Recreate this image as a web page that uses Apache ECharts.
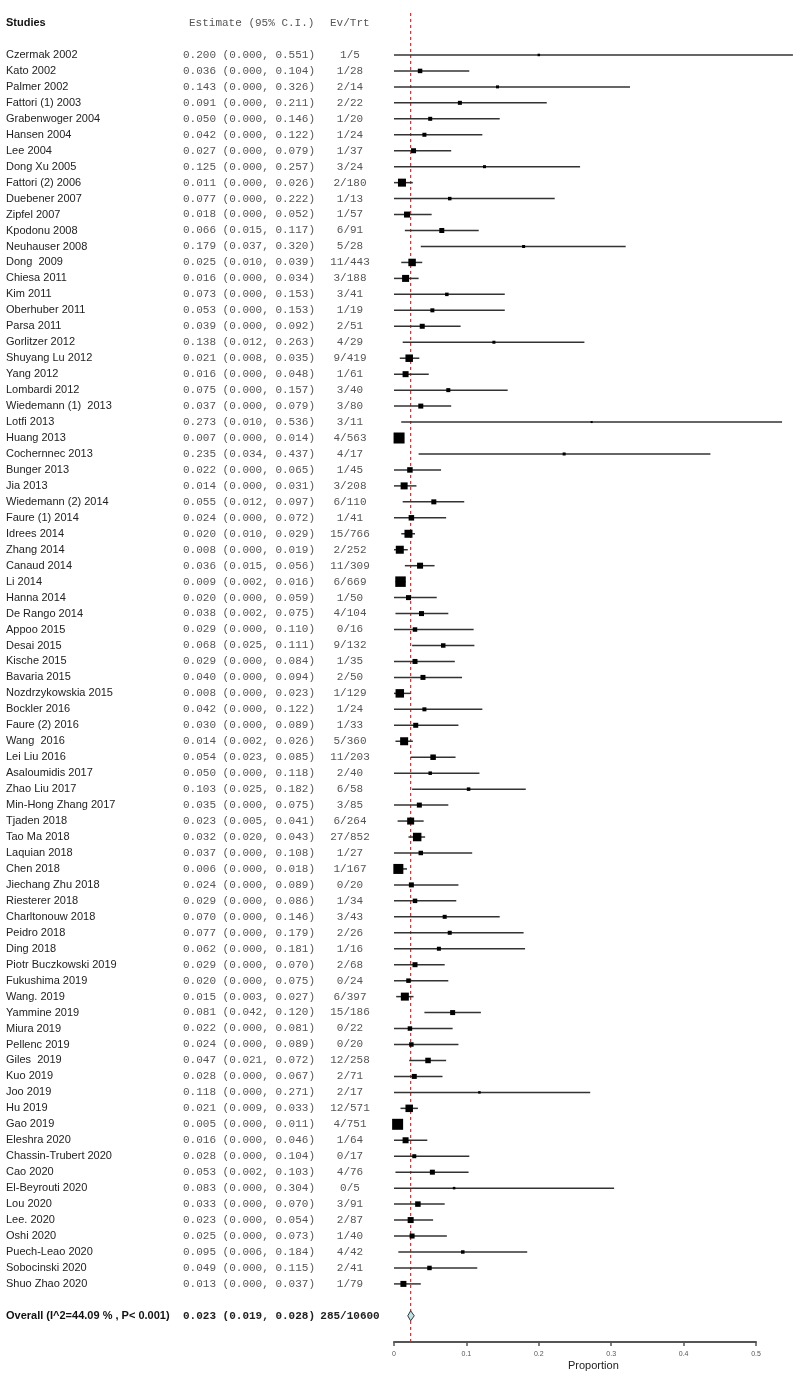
<!DOCTYPE html>
<html>
<head>
<meta charset="utf-8">
<script src="https://cdn.jsdelivr.net/npm/echarts@6/dist/echarts.min.js"></script>
<style>
html,body{margin:0;padding:0;background:#fff;}
#chart{width:800px;height:1380px;}
</style>
</head>
<body>
<div id="chart"></div>
<script>
const studies = ["Czermak 2002","Kato 2002","Palmer 2002","Fattori (1) 2003","Grabenwoger 2004","Hansen 2004","Lee 2004","Dong Xu 2005","Fattori (2) 2006","Duebener 2007",
"Zipfel 2007","Kpodonu 2008","Neuhauser 2008","Dong  2009","Chiesa 2011","Kim 2011","Oberhuber 2011","Parsa 2011","Gorlitzer 2012","Shuyang Lu 2012",
"Yang 2012","Lombardi 2012","Wiedemann (1)  2013","Lotfi 2013","Huang 2013","Cochernnec 2013","Bunger 2013","Jia 2013","Wiedemann (2) 2014","Faure (1) 2014",
"Idrees 2014","Zhang 2014","Canaud 2014","Li 2014","Hanna 2014","De Rango 2014","Appoo 2015","Desai 2015","Kische 2015","Bavaria 2015",
"Nozdrzykowskia 2015","Bockler 2016","Faure (2) 2016","Wang  2016","Lei Liu 2016","Asaloumidis 2017","Zhao Liu 2017","Min-Hong Zhang 2017","Tjaden 2018","Tao Ma 2018",
"Laquian 2018","Chen 2018","Jiechang Zhu 2018","Riesterer 2018","Charltonouw 2018","Peidro 2018","Ding 2018","Piotr Buczkowski 2019","Fukushima 2019","Wang. 2019",
"Yammine 2019","Miura 2019","Pellenc 2019","Giles  2019","Kuo 2019","Joo 2019","Hu 2019","Gao 2019","Eleshra 2020","Chassin-Trubert 2020",
"Cao 2020","El-Beyrouti 2020","Lou 2020","Lee. 2020","Oshi 2020","Puech-Leao 2020","Sobocinski 2020","Shuo Zhao 2020"];

const estimates = [0.200,0.036,0.143,0.091,0.050,0.042,0.027,0.125,0.011,0.077,
0.018,0.066,0.179,0.025,0.016,0.073,0.053,0.039,0.138,0.021,
0.016,0.075,0.037,0.273,0.007,0.235,0.022,0.014,0.055,0.024,
0.020,0.008,0.036,0.009,0.020,0.038,0.029,0.068,0.029,0.040,
0.008,0.042,0.030,0.014,0.054,0.050,0.103,0.035,0.023,0.032,
0.037,0.006,0.024,0.029,0.070,0.077,0.062,0.029,0.020,0.015,
0.081,0.022,0.024,0.047,0.028,0.118,0.021,0.005,0.016,0.028,
0.053,0.083,0.033,0.023,0.025,0.095,0.049,0.013];

const ciLower = [0,0,0,0,0,0,0,0,0,0,
0,0.015,0.037,0.010,0,0,0,0,0.012,0.008,
0,0,0,0.010,0,0.034,0,0,0.012,0,
0.010,0,0.015,0.002,0,0.002,0,0.025,0,0,
0,0,0,0.002,0.023,0,0.025,0,0.005,0.020,
0,0,0,0,0,0,0,0,0,0.003,
0.042,0,0,0.021,0,0,0.009,0,0,0,
0.002,0,0,0,0,0.006,0,0];

const ciUpper = [0.551,0.104,0.326,0.211,0.146,0.122,0.079,0.257,0.026,0.222,
0.052,0.117,0.320,0.039,0.034,0.153,0.153,0.092,0.263,0.035,
0.048,0.157,0.079,0.536,0.014,0.437,0.065,0.031,0.097,0.072,
0.029,0.019,0.056,0.016,0.059,0.075,0.110,0.111,0.084,0.094,
0.023,0.122,0.089,0.026,0.085,0.118,0.182,0.075,0.041,0.043,
0.108,0.018,0.089,0.086,0.146,0.179,0.181,0.070,0.075,0.027,
0.120,0.081,0.089,0.072,0.067,0.271,0.033,0.011,0.046,0.104,
0.103,0.304,0.070,0.054,0.073,0.184,0.115,0.037];

const events = [1,1,2,2,1,1,1,3,2,1,
1,6,5,11,3,3,1,2,4,9,
1,3,3,3,4,4,1,3,6,1,
15,2,11,6,1,4,0,9,1,2,
1,1,1,5,11,2,6,3,6,27,
1,1,0,1,3,2,1,2,0,6,
15,0,0,12,2,2,12,4,1,0,
4,0,3,2,1,4,2,1];

const totals = [5,28,14,22,20,24,37,24,180,13,
57,91,28,443,188,41,19,51,29,419,
61,40,80,11,563,17,45,208,110,41,
766,252,309,669,50,104,16,132,35,50,
129,24,33,360,203,40,58,85,264,852,
27,167,20,34,43,26,16,68,24,397,
186,22,20,258,71,17,571,751,64,17,
76,5,91,87,40,42,41,79];

const weights = [0.26,0.84,0.38,0.67,0.67,0.67,1.04,0.38,2.67,0.51,
1.5,1.04,0.38,2.34,2.04,0.51,0.67,1.04,0.38,2.34,
1.5,0.67,1.04,0.17,5.04,0.38,1.26,2.04,1.04,1.26,
2.67,2.67,1.5,4.59,1.04,1.04,0.84,0.84,1.04,1.04,
3.01,0.67,1.04,2.67,1.26,0.51,0.51,1.04,2.04,3.01,
0.84,4.17,1.04,0.84,0.67,0.67,0.67,1.04,0.84,2.67,
1.04,0.84,0.84,1.26,1.04,0.26,2.34,5.04,1.5,0.67,
1.04,0.26,1.26,1.5,1.04,0.51,0.84,1.5];

const overallLabel = "Overall (I^2=44.09 % , P< 0.001)";
const overallEst = 0.023, overallLo = 0.019, overallHi = 0.028;
const overallEvents = 285, overallTotal = 10600;
const xTicks = [0, 0.1, 0.2, 0.3, 0.4, 0.5];

const SANS = '"Liberation Sans", Arial, sans-serif';
const MONO = '"Liberation Mono", "Courier New", monospace';

const n = studies.length;
const overallRow = n + 1;
const forestData = studies.map((s, i) => [i, estimates[i], ciLower[i], ciUpper[i], weights[i]]);
const textData = studies.map((s, i) => [i, 0]);

const chart = echarts.init(document.getElementById('chart'), null, {renderer: 'canvas'});

const option = {
  animation: false,
  backgroundColor: '#fff',
  grid: {left: 394, right: 44, top: 39, bottom: 38},
  xAxis: {
    type: 'value', position: 'bottom', min: xTicks[0], max: xTicks[xTicks.length - 1], interval: 0.1,
    axisLine: {show: true, onZero: false, lineStyle: {color: '#555', width: 2}},
    axisTick: {show: true, length: 4, lineStyle: {color: '#555', width: 1.5}},
    axisLabel: {fontSize: 7, color: '#555', margin: 9, fontFamily: SANS,
      formatter: v => (v === 0 ? '0' : v.toFixed(1))},
    splitLine: {show: false}
  },
  yAxis: {type: 'value', inverse: true, min: -1, max: 80.64, show: false},
  graphic: [
    {type: 'text', left: 6, top: 17, style: {text: 'Studies', font: 'bold 11px ' + SANS, fill: '#111'}},
    {type: 'text', left: 189, top: 18, style: {text: 'Estimate (95% C.I.)', font: '11px ' + MONO, fill: '#555'}},
    {type: 'text', left: 330, top: 18, style: {text: 'Ev/Trt', font: '11px ' + MONO, fill: '#555'}},
    {type: 'text', left: 568, top: 1360, style: {text: 'Proportion', font: '11px ' + SANS, fill: '#222'}}
  ],
  series: [
    {
      type: 'custom', name: 'refline', clip: false, z: 1,
      data: [[overallEst, 0]],
      encode: {x: 0, y: 1},
      renderItem: (params, api) => {
        const v = api.value(0);
        const p1 = api.coord([v, -2.63]);
        const p2 = api.coord([v, 80.64]);
        return {type: 'line', shape: {x1: p1[0], y1: p1[1], x2: p2[0], y2: p2[1]},
          style: {stroke: '#d42a2a', lineWidth: 1.2, lineDash: [3, 3]}};
      }
    },
    {
      type: 'custom', name: 'studies', clip: false, z: 2,
      data: forestData,
      dimensions: ['row', 'est', 'lo', 'hi', 'w'],
      encode: {x: [1, 2, 3], y: 0},
      renderItem: (params, api) => {
        const k = api.value(0), est = api.value(1), lo = api.value(2), hi = api.value(3), w = api.value(4);
        const pLo = api.coord([lo, k]), pHi = api.coord([hi, k]), pE = api.coord([est, k]);
        const side = Math.sqrt(w * 24);
        return {type: 'group', children: [
          {type: 'line', shape: {x1: pLo[0], y1: pLo[1], x2: pHi[0], y2: pHi[1]},
            style: {stroke: '#333', lineWidth: 1.5}},
          {type: 'rect', shape: {x: pE[0] - side / 2, y: pE[1] - side / 2, width: side, height: side},
            style: {fill: '#000'}}
        ]};
      }
    },
    {
      type: 'custom', name: 'labels', clip: false, z: 3,
      data: textData,
      encode: {x: 1, y: 0},
      renderItem: (params, api) => {
        const i = api.value(0);
        const y = api.coord([0, i])[1];
        const estTxt = estimates[i].toFixed(3) + ' (' + ciLower[i].toFixed(3) + ', ' + ciUpper[i].toFixed(3) + ')';
        return {type: 'group', children: [
          {type: 'text', x: 6, y: y, style: {text: studies[i], font: '11px ' + SANS, fill: '#222', verticalAlign: 'middle', align: 'left'}},
          {type: 'text', x: 315, y: y, style: {text: estTxt, font: '11px ' + MONO, fill: '#555', verticalAlign: 'middle', align: 'right'}},
          {type: 'text', x: 350, y: y, style: {text: events[i] + '/' + totals[i], font: '11px ' + MONO, fill: '#555', verticalAlign: 'middle', align: 'center'}}
        ]};
      }
    },
    {
      type: 'custom', name: 'overall', clip: false, z: 4,
      data: [[overallRow, overallEst, overallLo, overallHi]],
      encode: {x: [1, 2, 3], y: 0},
      renderItem: (params, api) => {
        const k = api.value(0);
        const pE = api.coord([api.value(1), k]);
        const pLo = api.coord([api.value(2), k]);
        const pHi = api.coord([api.value(3), k]);
        const h = 5;
        const y = pE[1];
        const estTxt = overallEst.toFixed(3) + ' (' + overallLo.toFixed(3) + ', ' + overallHi.toFixed(3) + ')';
        return {type: 'group', children: [
          {type: 'polygon', shape: {points: [[pLo[0], y], [pE[0], y - h], [pHi[0], y], [pE[0], y + h]]},
            style: {fill: '#bfe3ec', stroke: '#333', lineWidth: 1}},
          {type: 'text', x: 6, y: y, style: {text: overallLabel, font: 'bold 11px ' + SANS, fill: '#111', verticalAlign: 'middle', align: 'left'}},
          {type: 'text', x: 315, y: y, style: {text: estTxt, font: 'bold 11px ' + MONO, fill: '#222', verticalAlign: 'middle', align: 'right'}},
          {type: 'text', x: 350, y: y, style: {text: overallEvents + '/' + overallTotal, font: 'bold 11px ' + MONO, fill: '#222', verticalAlign: 'middle', align: 'center'}}
        ]};
      }
    }
  ]
};
chart.setOption(option);
</script>
</body>
</html>
